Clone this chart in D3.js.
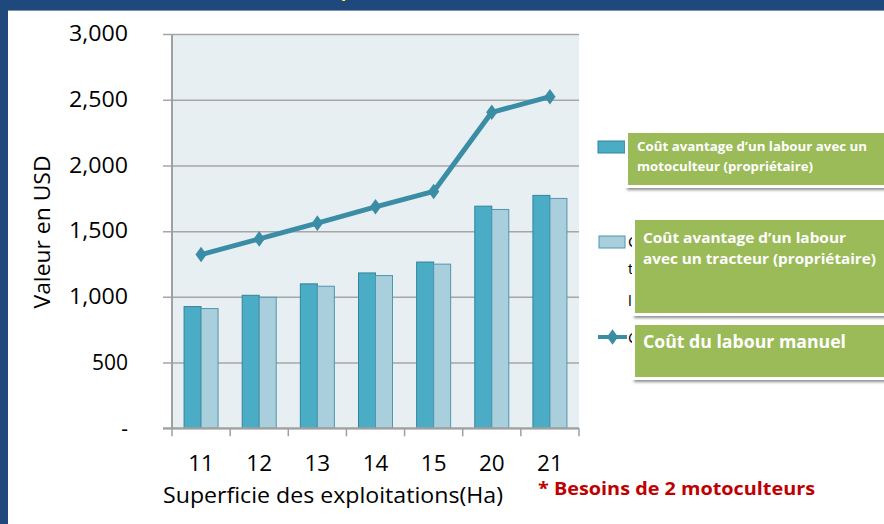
<!DOCTYPE html>
<html><head><meta charset="utf-8">
<script src="https://cdn.jsdelivr.net/npm/d3@7/dist/d3.min.js"></script>
<style>
html,body{margin:0;padding:0;background:#fff;}
svg{display:block;}
text{font-family:"Open Sans","Noto Sans",sans-serif;}
</style></head>
<body>
<svg id="chart" width="884" height="524"></svg>
<script>
// ---- data ----
const categories = ["11","12","13","14","15","20","21"];
const seriesNames = [
  "Coût avantage d’un labour avec un motoculteur (propriétaire)",
  "Coût avantage d’un labour avec un tracteur (propriétaire)",
  "Coût du labour manuel"
];
const motoculteur = [926, 1012, 1099, 1182, 1265, 1690, 1772];
const tracteur    = [911,  997, 1081, 1162, 1249, 1665, 1749];
const manuel      = [1322, 1441, 1561, 1685, 1802, 2404, 2523];
const yTicks = [0, 500, 1000, 1500, 2000, 2500, 3000];
const yTickLabels = ["-", "500", "1,000", "1,500", "2,000", "2,500", "3,000"];
const titleText = "Comparaison des coûts (en dollars)";
const xTitle = "Superficie des exploitations(Ha)";
const yTitle = "Valeur en USD";
const noteText = "* Besoins de 2 motoculteurs";

(function(){
const svg = d3.select("#chart");

// frame
svg.append("rect").attr("x",0).attr("y",0).attr("width",884).attr("height",10).attr("fill","#1F497D");
svg.append("rect").attr("x",0).attr("y",0).attr("width",8).attr("height",524).attr("fill","#1F497D");
svg.append("line").attr("x1",8).attr("x2",884).attr("y1",10.5).attr("y2",10.5).attr("stroke","#7F8FA6").attr("stroke-width",1);
svg.append("text").text(titleText).attr("x",300).attr("y",-3)
  .attr("font-weight","bold").attr("font-size",17).attr("fill","#FFFF00")
  .attr("textLength",317).attr("lengthAdjust","spacingAndGlyphs");

// scales
const pLeft = 172, pRight = 579, pTop = 34, pBottom = 428.3;
const x = d3.scaleBand().domain(categories).range([pLeft, pRight]).padding(0);
const x1 = d3.scaleBand().domain([0,1]).range([0, x.bandwidth()]).paddingInner(0).paddingOuter(0.71);
const y = d3.scaleLinear().domain([0, 3000]).range([pBottom, pTop]);

// plot background
svg.append("rect").attr("x",pLeft).attr("y",pTop).attr("width",pRight-pLeft).attr("height",pBottom-pTop).attr("fill","#E8EFF3");

// gridlines + y axis
const yAxis = d3.axisLeft(y).tickValues(yTicks).tickSize(-(pRight-pLeft)).tickSizeOuter(0).tickPadding(0)
  .tickFormat((d,i)=>yTickLabels[i]);
const gy = svg.append("g").attr("transform",`translate(${pLeft},0)`).call(yAxis);
gy.select(".domain").remove();
gy.selectAll(".tick line").attr("stroke","#A6A6A6").attr("stroke-width",1.5).attr("x1",-9);
gy.selectAll(".tick text").attr("x",-44).attr("font-size",21).attr("fill","#000")
  .attr("textLength",(d,i)=> yTickLabels[i].length===5 ? 59 : null)
  .attr("lengthAdjust","spacingAndGlyphs");

// bars
const series = [motoculteur, tracteur];
const fills = ["#4BACC6","#A9CEDC"];
const strokes = ["#31849B","#4F97AE"];
series.forEach((vals, s) => {
  svg.append("g").selectAll("rect").data(vals).join("rect")
    .attr("x",(d,i)=> x(categories[i]) + x1(s))
    .attr("y",d=> y(d))
    .attr("width",x1.bandwidth())
    .attr("height",d=> pBottom - y(d))
    .attr("fill",fills[s]).attr("stroke",strokes[s]).attr("stroke-width",1);
});

// left axis line and x axis
svg.append("line").attr("x1",pLeft).attr("x2",pLeft).attr("y1",pTop).attr("y2",pBottom).attr("stroke","#A0A0A0").attr("stroke-width",2);
const xAxis = d3.axisBottom(x).tickSize(0).tickPadding(0);
const gx = svg.append("g").attr("transform",`translate(0,${pBottom})`).call(xAxis);
gx.select(".domain").remove();
gx.append("line").attr("x1",163).attr("x2",pRight).attr("y1",0).attr("y2",0).attr("stroke","#A0A0A0").attr("stroke-width",2);
const bounds = categories.map(c=>x(c)).concat([pRight]);
gx.selectAll("line.xt").data(bounds).join("line").attr("class","xt")
  .attr("x1",d=>d).attr("x2",d=>d).attr("y1",0).attr("y2",8).attr("stroke","#A0A0A0").attr("stroke-width",1.5);
gx.selectAll(".tick text").attr("y",43).attr("dy",0).attr("font-size",22.5).attr("fill","#000");

// line series
const line = d3.line().x((d,i)=> x(categories[i]) + x.bandwidth()/2).y(d=> y(d));
svg.append("path").datum(manuel).attr("d",line).attr("fill","none").attr("stroke","#3A8DA5").attr("stroke-width",5).attr("stroke-linejoin","round");
const diamond = d3.symbol().type(d3.symbolDiamond).size(70);
svg.append("g").selectAll("path").data(manuel).join("path")
  .attr("d",diamond)
  .attr("transform",(d,i)=>`translate(${x(categories[i]) + x.bandwidth()/2},${y(d)}) scale(1.25,1)`)
  .attr("fill","#3A8DA5");

// axis titles
svg.append("text").text(yTitle).attr("transform","translate(50,232) rotate(-90)")
  .attr("text-anchor","middle").attr("font-size",21).attr("fill","#000")
  .attr("textLength",153).attr("lengthAdjust","spacingAndGlyphs");
svg.append("text").text(xTitle).attr("x",163).attr("y",503)
  .attr("font-size",22).attr("fill","#000")
  .attr("textLength",340).attr("lengthAdjust","spacingAndGlyphs");
svg.append("text").text(noteText).attr("x",538).attr("y",495)
  .attr("font-size",17.5).attr("font-weight","bold").attr("fill","#C00000")
  .attr("textLength",277).attr("lengthAdjust","spacingAndGlyphs");

// legend markers
const lg = svg.append("g");
lg.append("rect").attr("x",598).attr("y",141).attr("width",27).attr("height",12).attr("fill",fills[0]).attr("stroke",strokes[0]);
lg.append("rect").attr("x",599).attr("y",236).attr("width",26).attr("height",12).attr("fill",fills[1]).attr("stroke",strokes[1]);
lg.append("line").attr("x1",598).attr("x2",627).attr("y1",337).attr("y2",337).attr("stroke","#3A8DA5").attr("stroke-width",4);
lg.append("path").attr("d",diamond).attr("transform","translate(612.5,337) scale(1.25,1)").attr("fill","#3A8DA5");
// original legend texts (mostly hidden behind the callout boxes)
lg.append("text").text("Coût").attr("x",628).attr("y",247).attr("font-size",15).attr("fill","#000");
lg.append("text").text("t").attr("x",628).attr("y",274).attr("font-size",15).attr("fill","#000");
lg.append("text").text("l").attr("x",628).attr("y",306).attr("font-size",15).attr("fill","#000");
lg.append("text").text("Coût").attr("x",628).attr("y",343).attr("font-size",15).attr("fill","#000");

// callout boxes
const boxes = [
  {x:628, y:133, h:52, lines:[{t:"Coût avantage d’un labour avec un", y:150.5, w:230},{t:"motoculteur (propriétaire)", y:170.5, w:176}], fs:12.5, tx:637},
  {x:635, y:220, h:93, lines:[{t:"Coût avantage d’un labour", y:242.5, w:203},{t:"avec un tracteur (propriétaire)", y:264, w:233}], fs:15, tx:643},
  {x:635, y:325, h:52, lines:[{t:"Coût du labour manuel", y:347.5, w:203}], fs:17.5, tx:643}
];
const defs = svg.append("defs");
defs.append("filter").attr("id","sh").attr("x","-10%").attr("y","-20%").attr("width","130%").attr("height","160%")
  .append("feGaussianBlur").attr("stdDeviation",1.5);
boxes.forEach(b=>{
  svg.append("rect").attr("x",b.x-1).attr("y",b.y+2).attr("width",884-b.x+10).attr("height",b.h+3).attr("fill","#8C8C8C").attr("filter","url(#sh)");
  svg.append("rect").attr("x",b.x-3).attr("y",b.y-3).attr("width",884-b.x+10).attr("height",b.h+6).attr("fill","#FFFFFF");
  svg.append("rect").attr("x",b.x).attr("y",b.y).attr("width",884-b.x+10).attr("height",b.h).attr("fill","#9BBB59");
  b.lines.forEach(l=>{
    svg.append("text").text(l.t).attr("x",b.tx).attr("y",l.y).attr("font-size",b.fs).attr("font-weight","bold").attr("fill","#FFFFFF")
      .attr("textLength",l.w).attr("lengthAdjust","spacingAndGlyphs");
  });
});
})();
</script>
</body></html>
